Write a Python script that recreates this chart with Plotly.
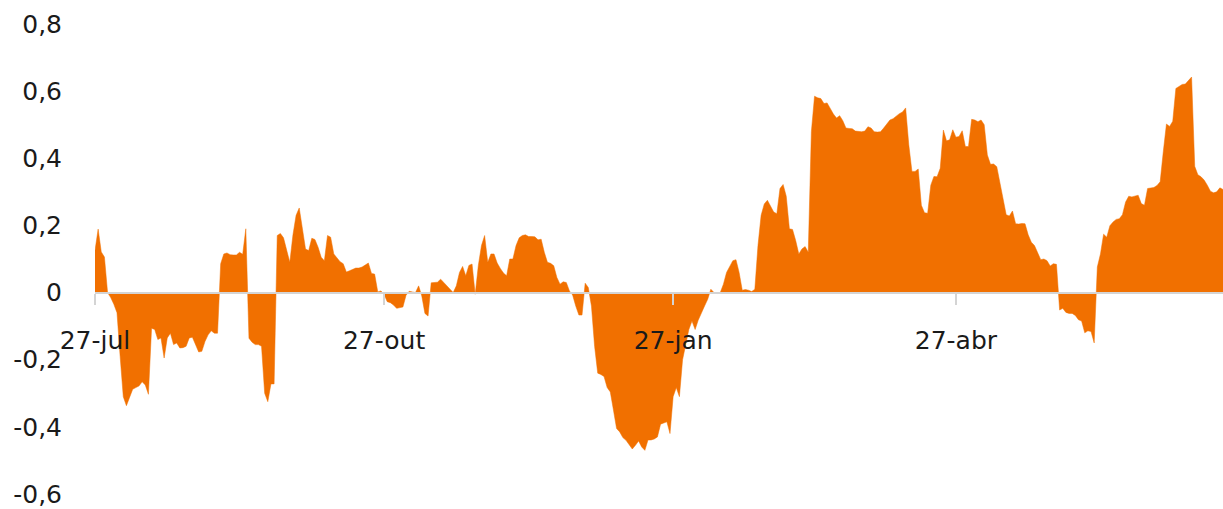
import pandas as pd
import plotly.graph_objects as go

# Daily calendar dates of the series
dates = pd.date_range("2022-07-27", "2023-07-21", freq="D")

# Values (one per day)
values = [
    0.125, 0.189, 0.121, 0.106, 0.0, -0.015, -0.035, -0.06, -0.19, -0.31,
    -0.337, -0.31, -0.288, -0.283, -0.278, -0.266, -0.275, -0.303, -0.106, -0.11,
    -0.14, -0.135, -0.195, -0.135, -0.121, -0.155, -0.15, -0.165, -0.164, -0.16,
    -0.135, -0.133, -0.155, -0.177, -0.175, -0.146, -0.126, -0.114, -0.121, -0.121,
    0.086, 0.115, 0.118, 0.113, 0.112, 0.112, 0.12, 0.114, 0.19, -0.136,
    -0.148, -0.155, -0.155, -0.16, -0.30, -0.325, -0.272, -0.272, 0.17, 0.176,
    0.163, 0.13, 0.09, 0.172, 0.23, 0.252, 0.195, 0.13, 0.125, 0.162,
    0.158, 0.135, 0.105, 0.095, 0.17, 0.165, 0.115, 0.103, 0.092, 0.086,
    0.061, 0.065, 0.07, 0.073, 0.073, 0.076, 0.082, 0.088, 0.057, 0.055,
    0.002, 0.005, -0.005, -0.027, -0.03, -0.037, -0.047, -0.046, -0.043, -0.008,
    0.004, 0.002, 0.0, 0.02, -0.01, -0.062, -0.07, 0.029, 0.029, 0.031,
    0.04, 0.03, 0.02, 0.01, 0.0, 0.02, 0.06, 0.078, 0.05, 0.081,
    0.085, -0.005, 0.081, 0.14, 0.17, 0.09, 0.115, 0.115, 0.088, 0.072,
    0.058, 0.05, 0.1, 0.1, 0.14, 0.163, 0.17, 0.172, 0.167, 0.167,
    0.166, 0.157, 0.159, 0.12, 0.09, 0.087, 0.08, 0.045, 0.025, 0.032,
    0.03, 0.005, -0.007, -0.04, -0.067, -0.067, 0.028, 0.015, -0.04, -0.16,
    -0.24, -0.244, -0.25, -0.283, -0.296, -0.35, -0.405, -0.415, -0.432, -0.44,
    -0.455, -0.466, -0.455, -0.442, -0.46, -0.47, -0.439, -0.439, -0.436, -0.43,
    -0.392, -0.388, -0.385, -0.42, -0.31, -0.283, -0.31, -0.2, -0.15, -0.11,
    -0.085, -0.11, -0.082, -0.058, -0.04, -0.02, 0.01, 0.0, -0.003, 0.0,
    0.025, 0.06, 0.078, 0.095, 0.098, 0.06, 0.007, 0.009, 0.007, 0.003,
    0.01, 0.14, 0.23, 0.264, 0.275, 0.255, 0.24, 0.235, 0.31, 0.322,
    0.287, 0.19, 0.188, 0.155, 0.115, 0.13, 0.137, 0.12, 0.48, 0.585,
    0.58, 0.578, 0.563, 0.565, 0.548, 0.532, 0.52, 0.527, 0.512, 0.49,
    0.489, 0.488, 0.481, 0.479, 0.479, 0.481, 0.494, 0.49, 0.479, 0.478,
    0.479, 0.49, 0.503, 0.514, 0.518, 0.526, 0.533, 0.538, 0.55, 0.44,
    0.361, 0.361, 0.368, 0.26, 0.238, 0.236, 0.32, 0.346, 0.345, 0.37,
    0.484, 0.452, 0.455, 0.485, 0.463, 0.465, 0.482, 0.435, 0.435, 0.516,
    0.514, 0.509, 0.514, 0.5, 0.41, 0.382, 0.383, 0.375, 0.33, 0.28,
    0.232, 0.228, 0.243, 0.205, 0.204, 0.206, 0.205, 0.172, 0.15, 0.14,
    0.12, 0.098, 0.1, 0.095, 0.079, 0.086, 0.084, -0.052, -0.047, -0.059,
    -0.062, -0.062, -0.068, -0.081, -0.085, -0.12, -0.114, -0.116, -0.15, 0.076,
    0.115, 0.174, 0.165, 0.199, 0.21, 0.218, 0.22, 0.232, 0.27, 0.287,
    0.285, 0.287, 0.29, 0.265, 0.26, 0.31, 0.312, 0.313, 0.319, 0.33,
    0.42, 0.502, 0.495, 0.51, 0.608, 0.615, 0.62, 0.621, 0.632, 0.642,
    0.376, 0.351, 0.345, 0.335, 0.32, 0.302, 0.297, 0.3, 0.312, 0.307,
]

x_tick_dates = ["2022-07-27", "2022-10-27", "2023-01-27", "2023-04-27"]
x_tick_text = ["27-jul", "27-out", "27-jan", "27-abr"]
y_tick_vals = [-0.6, -0.4, -0.2, 0, 0.2, 0.4, 0.6, 0.8]
y_tick_text = ["-0,6", "-0,4", "-0,2", "0", "0,2", "0,4", "0,6", "0,8"]

ORANGE = "#F17000"
y_min, y_max = -0.6, 0.8

fig = go.Figure()
fig.add_trace(go.Scatter(
    x=dates, y=values, mode="lines", fill="tozeroy",
    fillcolor=ORANGE, line=dict(color=ORANGE, width=0.5),
    hoverinfo="skip", showlegend=False,
))

font = dict(family="DejaVu Sans", size=25, color="#1a1a1a")

fig.update_layout(
    width=1223, height=509,
    margin=dict(l=95, r=0, t=24, b=12),
    paper_bgcolor="white", plot_bgcolor="white",
    showlegend=False,
    xaxis=dict(
        range=[dates[0], dates[-1]],
        tickvals=x_tick_dates, ticktext=x_tick_text,
        showgrid=False, zeroline=False,
        showline=True, linecolor="#d4d4d4", linewidth=2,
        ticks="outside", ticklen=11, tickwidth=2, tickcolor="#d4d4d4",
        anchor="free", position=(0 - y_min) / (y_max - y_min),
        tickfont=font, ticklabelstandoff=14, layer="above traces",
        ticklabeloverflow="allow",
    ),
    yaxis=dict(
        range=[y_min, y_max],
        tickvals=y_tick_vals, ticktext=y_tick_text,
        showgrid=False, zeroline=False, showline=False,
        ticks="", tickfont=font, ticklabelstandoff=32,
        ticklabeloverflow="allow",
    ),
)

fig.write_html(
    "out.html",
    config={"displayModeBar": False},
    post_script="document.body.style.margin='0';document.body.style.overflow='hidden';",
)
